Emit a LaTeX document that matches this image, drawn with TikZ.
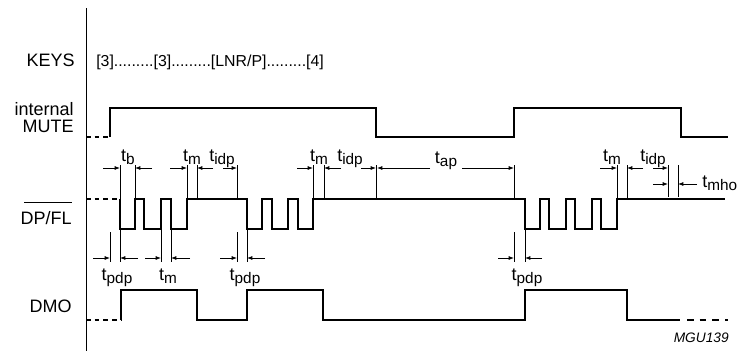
\documentclass[tikz,border=0pt]{standalone}
\usepackage{fontspec}
\setmainfont{Liberation Sans}
\usetikzlibrary{arrows.meta}
\newcommand{\tsub}[1]{t\raisebox{-2.5pt}{\fontsize{11.5}{12}\selectfont #1}}
\tikzset{
	sig/.style={line width=1.6pt},
	sigdash/.style={line width=1.6pt,dash pattern=on 3.5pt off 3pt},
	sigtail/.style={line width=1.6pt,dash pattern=on 5pt off 4.5pt},
	tk/.style={line width=0.6pt},
	dimarr/.style={line width=0.6pt,-{Latex[length=4pt,width=3pt]}},
	lbl/.style={inner sep=0pt,anchor=base east,font=\fontsize{13.5}{15}\selectfont},
	tlbl/.style={inner sep=0pt,anchor=base,font=\fontsize{13.5}{15}\selectfont}
}
\begin{document}
\begin{tikzpicture}[x=0.75pt,y=-0.75pt]
		\useasboundingbox (0,0) rectangle (742,351);
		\draw[line width=0.6pt] (86,8) -- (86,351);
		\node[lbl] (keys) at (75,66) {KEYS};
		\node[lbl] (internal) at (74,115) {internal};
		\node[lbl] (mute) at (74,132) {MUTE};
		\node[lbl] (dpfl) at (72,224) {DP/FL};
		\draw[line width=0.6pt] ([xshift=3pt,yshift=6pt]dpfl.north west) -- ([yshift=6pt]dpfl.north east);
		\node[lbl] (dmo) at (72,312) {DMO};
		\node[inner sep=0pt,anchor=base west,font=\fontsize{11.9}{13}\selectfont] (keyseq) at (96,66) {[3].........[3].........[LNR/P].........[4]};
		\node[inner sep=0pt,anchor=base east,font=\fontsize{10.3}{12}\selectfont\itshape] (code) at (729,342) {MGU139};
		\draw[sigdash] (86,137) -- (110,137);
		\draw[sig] (110,137) -- (110,108) -- (376,108) -- (376,137) -- (514,137) -- (514,108) -- (681,108) -- (681,137) -- (728,137);
		\draw[sigdash] (86,199) -- (120,199);
		\draw[sig] (120,199) -- (120,229) -- (135,229) -- (135,199) -- (144,199) -- (144,229) -- (161,229) -- (161,199) -- (171,199) -- (171,229) -- (187,229) -- (187,199)
			-- (247,199) -- (247,229) -- (262,229) -- (262,199) -- (272,199) -- (272,229) -- (288,229) -- (288,199) -- (298,199) -- (298,229) -- (313,229) -- (313,199)
			-- (525,199) -- (525,229) -- (540,229) -- (540,199) -- (549,199) -- (549,229) -- (566,229) -- (566,199) -- (575,199) -- (575,229) -- (592,229) -- (592,199)
			-- (601,199) -- (601,229) -- (617,229) -- (617,199) -- (725,199);
		\draw[sigdash] (86,320) -- (121,320);
		\draw[sig] (121,320) -- (121,290) -- (197,290) -- (197,320) -- (247,320) -- (247,290) -- (323,290) -- (323,320) -- (525,320) -- (525,290) -- (627,290) -- (627,320) -- (680,320);
		\draw[sigtail] (687,320) -- (728,320);
		\draw[tk] (120,165) -- (120,199);
		\draw[tk] (135,165) -- (135,199);
		\draw[tk] (187,165) -- (187,199);
		\draw[tk] (197,165) -- (197,199);
		\draw[tk] (237,165) -- (237,199);
		\draw[tk] (313,165) -- (313,199);
		\draw[tk] (324,165) -- (324,199);
		\draw[tk] (376,165) -- (376,199);
		\draw[tk] (514,165) -- (514,199);
		\draw[tk] (617,165) -- (617,199);
		\draw[tk] (627,165) -- (627,199);
		\draw[tk] (668,165) -- (668,197);
		\draw[tk] (678,165) -- (678,197);
		\draw[dimarr] (103,168) -- (120,168);
		\draw[dimarr] (152,168) -- (135,168);
		\draw[dimarr] (170,168) -- (187,168);
		\draw[dimarr] (213,168) -- (197,168);
		\draw[dimarr] (223,168) -- (237,168);
		\draw[dimarr] (297,168) -- (313,168);
		\draw[dimarr] (341,168) -- (324,168);
		\draw[dimarr] (361,168) -- (376,168);
		\draw[dimarr] (430,168) -- (377,168);
		\draw[dimarr] (462,168) -- (514,168);
		\draw[dimarr] (600,168) -- (617,168);
		\draw[dimarr] (643,168) -- (627,168);
		\draw[dimarr] (653,168) -- (668,168);
		\draw[dimarr] (653,184) -- (668,184);
		\draw[dimarr] (697,184) -- (678,184);
		\node[tlbl] (tb) at (128,161) {\tsub{b}};
		\node[tlbl] (tma) at (192,161) {\tsub{m}};
		\node[tlbl] (tidpa) at (222,161) {\tsub{idp}};
		\node[tlbl] (tmb) at (319,161) {\tsub{m}};
		\node[tlbl] (tidpb) at (350,161) {\tsub{idp}};
		\node[tlbl] (tap) at (446,163) {\tsub{ap}};
		\node[tlbl] (tmc) at (612,161) {\tsub{m}};
		\node[tlbl] (tidpc) at (653,161) {\tsub{idp}};
		\node[tlbl,anchor=base west] (tmho) at (702,187) {\tsub{mho}};
		\draw[tk] (110,232) -- (110,262);
		\draw[tk] (120,229) -- (120,262);
		\draw[tk] (161,229) -- (161,262);
		\draw[tk] (171,229) -- (171,262);
		\draw[tk] (237,232) -- (237,262);
		\draw[tk] (247,229) -- (247,262);
		\draw[tk] (514,232) -- (514,262);
		\draw[tk] (525,229) -- (525,262);
		\draw[dimarr] (93,258) -- (110,258);
		\draw[dimarr] (138,258) -- (120,258);
		\draw[dimarr] (145,258) -- (161,258);
		\draw[dimarr] (190,258) -- (171,258);
		\draw[dimarr] (220,258) -- (237,258);
		\draw[dimarr] (265,258) -- (247,258);
		\draw[dimarr] (498,258) -- (514,258);
		\draw[dimarr] (542,258) -- (525,258);
		\node[tlbl] (tpdpa) at (117,280) {\tsub{pdp}};
		\node[tlbl] (tmd) at (168,280) {\tsub{m}};
		\node[tlbl] (tpdpb) at (245,280) {\tsub{pdp}};
		\node[tlbl] (tpdpc) at (527,280) {\tsub{pdp}};
\end{tikzpicture}
\end{document}
